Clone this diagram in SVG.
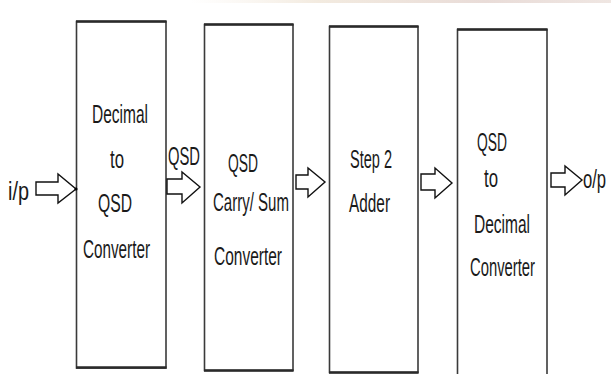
<svg xmlns="http://www.w3.org/2000/svg" width="611" height="374" viewBox="0 0 611 374">
<defs>
<linearGradient id="band" x1="0" y1="0" x2="1" y2="0">
<stop offset="0" stop-color="#f6efe6" stop-opacity="0"/>
<stop offset="0.3" stop-color="#f3ebe0"/>
<stop offset="0.7" stop-color="#e9dcd8"/>
<stop offset="1" stop-color="#efe6e2"/>
</linearGradient>
</defs>
<style>
.box{fill:#fff;stroke:#3a3a3a;stroke-width:1.6}
.edge{stroke:#2a2a2a;stroke-width:2.6}
.t{font-family:"Liberation Sans",Arial,sans-serif;font-size:26px;fill:#1a1a1a}
.arr{fill:#fff;stroke:#111;stroke-width:1.4;stroke-linejoin:miter}
</style>
<rect width="611" height="374" fill="#fff"/>
<rect x="190" y="0" width="421" height="3" fill="url(#band)"/>

<g id="node-decimal-to-qsd">
<rect class="box" x="76.5" y="21.5" width="89.5" height="346.5"/>
<line class="edge" x1="76" y1="21.5" x2="166.5" y2="21.5"/>
<line class="edge" x1="76" y1="367.5" x2="166.5" y2="367.5"/>
<text class="t" x="92" y="123" textLength="56" lengthAdjust="spacingAndGlyphs">Decimal</text>
<text class="t" x="110" y="168" textLength="14" lengthAdjust="spacingAndGlyphs">to</text>
<text class="t" x="98" y="212" textLength="34" lengthAdjust="spacingAndGlyphs">QSD</text>
<text class="t" x="83" y="258" textLength="67" lengthAdjust="spacingAndGlyphs">Converter</text>
</g>

<g id="node-carry-sum">
<rect class="box" x="204.5" y="24.5" width="88.5" height="346"/>
<line class="edge" x1="204" y1="24.5" x2="293.5" y2="24.5"/>
<line class="edge" x1="204" y1="370.5" x2="293.5" y2="370.5"/>
<text class="t" x="228" y="172" textLength="30" lengthAdjust="spacingAndGlyphs">QSD</text>
<text class="t" x="213" y="211" textLength="76" lengthAdjust="spacingAndGlyphs">Carry/ Sum</text>
<text class="t" x="214" y="265" textLength="68" lengthAdjust="spacingAndGlyphs">Converter</text>
</g>

<g id="node-adder">
<rect class="box" x="329.5" y="26.5" width="88.5" height="346"/>
<line class="edge" x1="329" y1="26.5" x2="418.5" y2="26.5"/>
<line class="edge" x1="329" y1="372.5" x2="418.5" y2="372.5"/>
<text class="t" x="350" y="168" textLength="42" lengthAdjust="spacingAndGlyphs">Step 2</text>
<text class="t" x="349" y="212" textLength="41" lengthAdjust="spacingAndGlyphs">Adder</text>
</g>

<g id="node-qsd-to-decimal">
<rect class="box" x="457.5" y="29.5" width="89.5" height="350"/>
<line class="edge" x1="457" y1="29.5" x2="547.5" y2="29.5"/>
<text class="t" x="477" y="151" textLength="30" lengthAdjust="spacingAndGlyphs">QSD</text>
<text class="t" x="484" y="187" textLength="14" lengthAdjust="spacingAndGlyphs">to</text>
<text class="t" x="474" y="233" textLength="56" lengthAdjust="spacingAndGlyphs">Decimal</text>
<text class="t" x="470" y="276" textLength="65" lengthAdjust="spacingAndGlyphs">Converter</text>
</g>

<g id="labels">
<text class="t" x="8" y="200" textLength="21" lengthAdjust="spacingAndGlyphs">i/p</text>
<text class="t" x="168" y="165" textLength="32" lengthAdjust="spacingAndGlyphs">QSD</text>
<text class="t" transform="translate(583,188) scale(0.64,1)">o/p</text>
</g>

<g id="connectors">
<polygon class="arr" points="36,182 58,182 58,174 76,189 58,203 58,195 36,195"/>
<circle cx="76" cy="189" r="1.6" fill="#000"/>
<polygon class="arr" points="167,179 182,179 182,172 200,187 182,203 182,194 167,194"/>
<polygon class="arr" points="296,175 308,175 308,168 325,182 308,197 308,189 296,189"/>
<polygon class="arr" points="421,174 435,174 435,168 452,183 435,198 435,190 421,190"/>
<polygon class="arr" points="551,173 565,173 565,166 582,180 565,195 565,187 551,187"/>
</g>
</svg>
